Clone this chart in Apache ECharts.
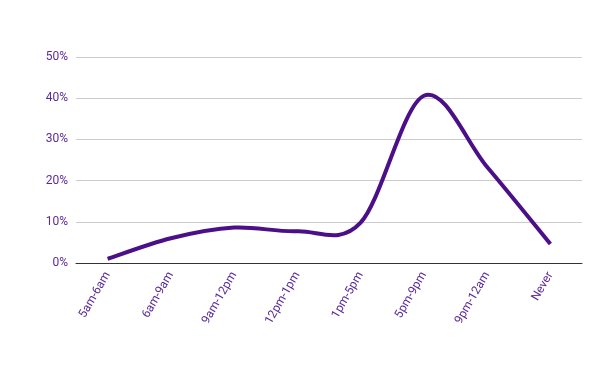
<!DOCTYPE html>
<html><head><meta charset="utf-8">
<script src="https://cdn.jsdelivr.net/npm/echarts@6/dist/echarts.min.js"></script>
<style>html,body{margin:0;padding:0;background:#fff}#c{width:600px;height:371px}</style>
</head><body><div id="c"></div>
<script>
const categories = ['5am-6am','6am-9am','9am-12pm','12pm-1pm','1pm-5pm','5pm-9pm','9pm-12am','Never'];
const values = [1.0, 6.0, 8.6, 7.7, 9.8, 40.6, 23.3, 4.6];
const yTicks = [0, 10, 20, 30, 40, 50];
const chart = echarts.init(document.getElementById('c'));

function renderCurve(params, api) {
  if (params.dataIndex !== 0) return null;
  const pts = values.map((v, i) => api.coord([i, v]));
  const n = pts.length;
  let d = 'M' + pts[0][0] + ' ' + pts[0][1];
  for (let i = 0; i < n - 1; i++) {
    const p0 = pts[Math.max(0, i - 1)], p1 = pts[i], p2 = pts[i + 1], p3 = pts[Math.min(n - 1, i + 2)];
    const c1x = p1[0] + (p2[0] - p0[0]) / 6, c1y = p1[1] + (p2[1] - p0[1]) / 6;
    const c2x = p2[0] - (p3[0] - p1[0]) / 6, c2y = p2[1] - (p3[1] - p1[1]) / 6;
    d += ' C' + c1x + ' ' + c1y + ' ' + c2x + ' ' + c2y + ' ' + p2[0] + ' ' + p2[1];
  }
  return {
    type: 'path',
    shape: {pathData: d},
    style: {fill: 'none', stroke: '#4b0f88', lineWidth: 4, lineCap: 'butt', lineJoin: 'round'}
  };
}

chart.setOption({
  animation: false,
  grid: {left: 76, right: 18, top: 57, bottom: 108},
  xAxis: {
    type: 'category', data: categories, boundaryGap: true,
    axisLine: {lineStyle: {color: '#333', width: 1}},
    axisTick: {show: false},
    axisLabel: {rotate: 60, color: '#5b2a9a', fontFamily: 'Roboto', fontSize: 12, margin: 10, interval: 0}
  },
  yAxis: {
    type: 'value', min: 0, max: 50, interval: 10,
    axisLine: {show: false}, axisTick: {show: false},
    splitLine: {lineStyle: {color: '#cccccc'}},
    axisLabel: {color: '#5b2a9a', fontFamily: 'Roboto', fontSize: 12, margin: 8,
      formatter: v => yTicks.includes(v) ? v + '%' : ''}
  },
  series: [{
    type: 'custom',
    data: values.map((v, i) => [i, v]),
    encode: {x: 0, y: 1},
    renderItem: renderCurve,
    z: 3
  }]
});
</script></body></html>
